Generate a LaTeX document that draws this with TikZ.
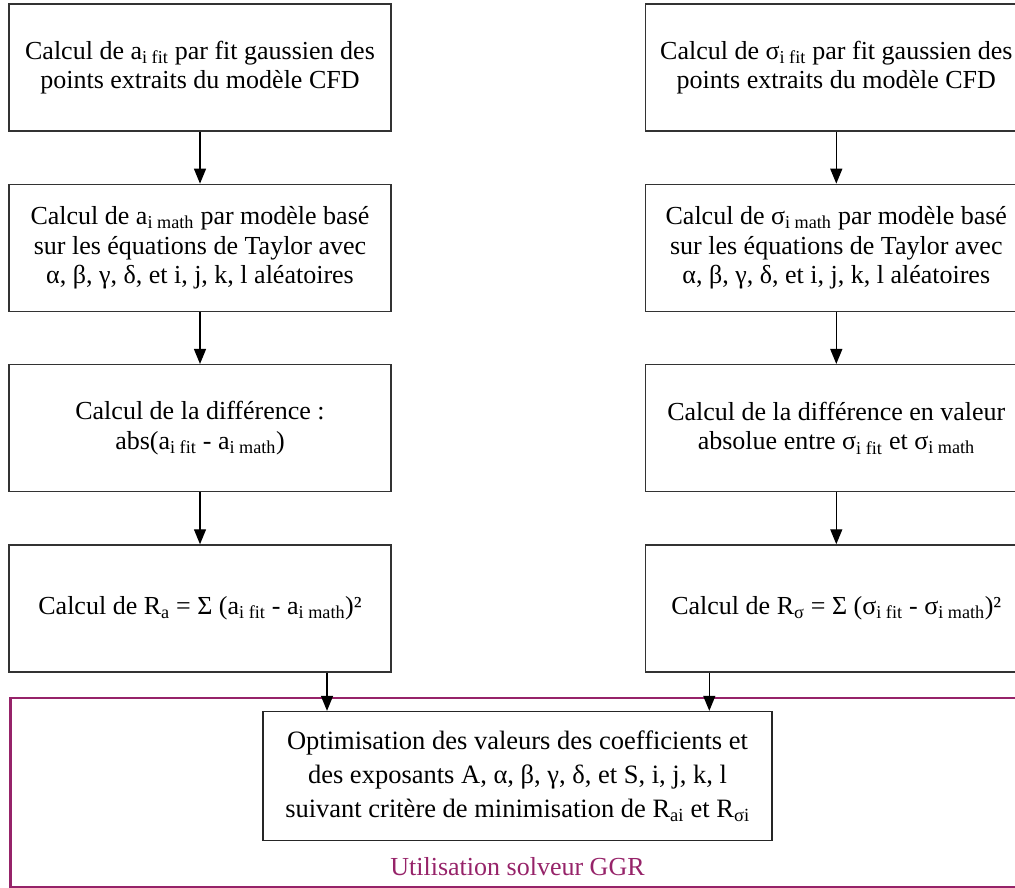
\documentclass[tikz,border=0pt]{standalone}
\usepackage{fontspec}
\setmainfont{Liberation Serif}
\usetikzlibrary{arrows.meta, positioning}

\definecolor{ggr}{RGB}{150,35,105}
\newcommand{\ix}[1]{\textsubscript{#1}}

\begin{document}
\begin{tikzpicture}[
    x=1pt, y=1pt,
    font=\fontsize{26}{29.5}\selectfont,
    node distance=52pt and 253pt,
    every node/.style={align=center},
    calc/.style ={rectangle, draw=black!80, line width=1.3pt,
                  minimum width=382pt, minimum height=127pt, inner sep=0pt},
    optim/.style={rectangle, draw=black!85, line width=1.3pt,
                  font=\fontsize{26.5}{34}\selectfont,
                  minimum width=509pt, minimum height=129pt, inner sep=0pt},
    solver/.style={rectangle, draw=ggr, line width=2.5pt,
                  minimum width=1019pt, minimum height=189pt},
    arr/.style  ={-{Triangle[length=15pt, width=12pt]}, line width=1.3pt}
]
\useasboundingbox (0,0) rectangle (1015,-888);

% Solver frame
\node[solver] (ggr) at (520,-792.5) {};

% Left column (a)
\node[calc] (a1) at (200,-67.5) {Calcul de a\ix{i fit} par fit gaussien des\\points extraits du modèle CFD};
\node[calc, below=of a1] (a2) {Calcul de a\ix{i math} par modèle basé\\sur les équations de Taylor avec\\α, β, γ, δ, et i, j, k, l aléatoires};
\node[calc, below=of a2] (a3) {Calcul de la différence :\\abs(a\ix{i fit} - a\ix{i math})};
\node[calc, below=of a3] (a4) {Calcul de R\ix{a} = Σ (a\ix{i fit} - a\ix{i math})²};

% Right column (sigma)
\node[calc, right=of a1] (s1) {Calcul de σ\ix{i fit} par fit gaussien des\\points extraits du modèle CFD};
\node[calc, below=of s1] (s2) {Calcul de σ\ix{i math} par modèle basé\\sur les équations de Taylor avec\\α, β, γ, δ, et i, j, k, l aléatoires};
\node[calc, below=of s2] (s3) {Calcul de la différence en valeur\\absolue entre σ\ix{i fit} et σ\ix{i math}};
\node[calc, below=of s3] (s4) {Calcul de R\ix{σ} = Σ (σ\ix{i fit} - σ\ix{i math})²};

% Optimisation
\node[optim] (opt) at (517.5,-776) {Optimisation des valeurs des coefficients et\\des exposants A, α, β, γ, δ, et S, i, j, k, l\\suivant critère de minimisation de R\ix{ai} et R\ix{σi}};
\node[below=16pt of opt, text=ggr, inner sep=0pt] (lbl) {Utilisation solveur GGR};

% Arrows left column
\draw[arr] (a1) -- (a2);
\draw[arr] (a2) -- (a3);
\draw[arr] (a3) -- (a4);
% Arrows right column
\draw[arr] (s1) -- (s2);
\draw[arr] (s2) -- (s3);
\draw[arr] (s3) -- (s4);
% down to the optimisation
\draw[arr] ([xshift=127pt]a4.south) -- ([xshift=127pt]a4.south |- opt.north);
\draw[arr] ([xshift=-127pt]s4.south) -- ([xshift=-127pt]s4.south |- opt.north);
\end{tikzpicture}
\end{document}
